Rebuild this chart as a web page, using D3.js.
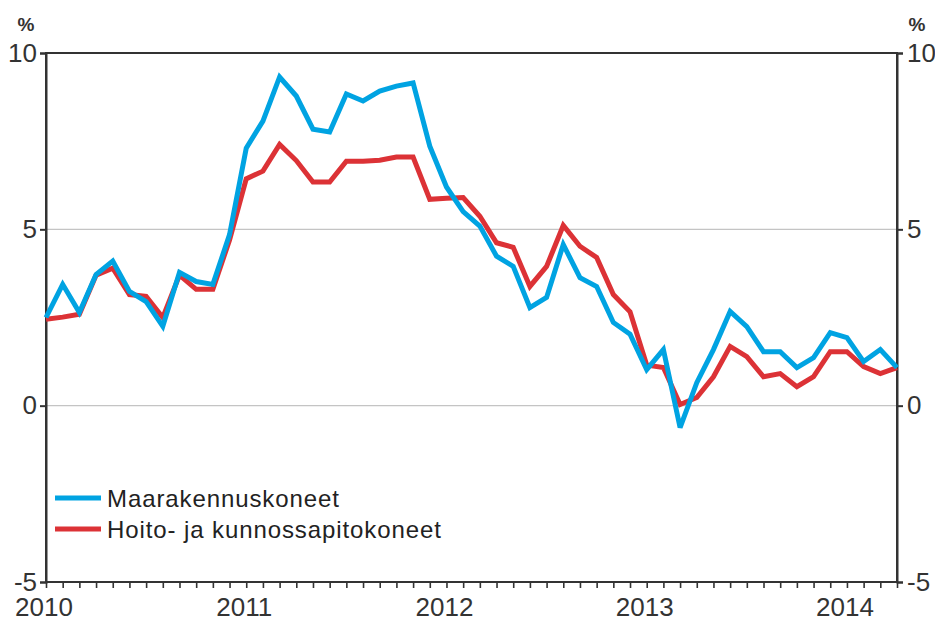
<!DOCTYPE html>
<html>
<head>
<meta charset="utf-8">
<script src="https://cdn.jsdelivr.net/npm/d3@7"></script>
<style>
  body { margin: 0; background: #fff; }
  svg { display: block; font-family: "Liberation Sans", Arial, sans-serif; }
  .axis path, .axis line { stroke: #333; }
  .axis text { font-size: 26px; fill: #333; }
</style>
</head>
<body>
<svg width="935" height="621"></svg>
<script>
// DATA
var yearLabels = ['2010', '2011', '2012', '2013', '2014'];
var monthCount = 52; // Jan 2010 .. Apr 2014
var yTicks = [-5, 0, 5, 10];

var maarakennus = [2.5, 3.44, 2.64, 3.72, 4.1, 3.24, 2.95, 2.25, 3.78, 3.52, 3.44, 4.85,
  7.3, 8.07, 9.32, 8.78, 7.84, 7.76, 8.84, 8.64, 8.92, 9.06, 9.15, 7.36,
  6.2, 5.5, 5.09, 4.24, 3.95, 2.78, 3.07, 4.57, 3.63, 3.38, 2.36, 2.03,
  1.02, 1.59, -0.62, 0.65, 1.59, 2.67, 2.24, 1.53, 1.53, 1.08, 1.36, 2.07,
  1.93, 1.25, 1.59, 1.08];
var hoito = [2.45, 2.51, 2.59, 3.7, 3.9, 3.15, 3.1, 2.5, 3.7, 3.3, 3.3, 4.7,
  6.43, 6.65, 7.41, 6.95, 6.34, 6.34, 6.93, 6.93, 6.96, 7.05, 7.05, 5.85,
  5.88, 5.9, 5.37, 4.62, 4.49, 3.38, 3.95, 5.11, 4.52, 4.2, 3.15, 2.66,
  1.15, 1.08, 0.03, 0.23, 0.82, 1.68, 1.39, 0.82, 0.91, 0.54, 0.82, 1.53,
  1.53, 1.11, 0.91, 1.08];

var series = [
  { name: 'Hoito- ja kunnossapitokoneet', values: hoito, color: '#dc3236' },
  { name: 'Maarakennuskoneet', values: maarakennus, color: '#00a3e2' }
];
var legendOrder = [series[1], series[0]];

var svg = d3.select('svg');

var x = d3.scaleLinear().domain([0, monthCount - 1]).range([46, 897]);
var y = d3.scaleLinear().domain([-5, 10]).range([582, 53]);

// grid lines
svg.append('g').selectAll('line')
  .data([0, 5])
  .enter()
  .append('line')
  .attr('x1', x.range()[0]).attr('x2', x.range()[1])
  .attr('y1', d => y(d)).attr('y2', d => y(d))
  .attr('stroke', '#c4c4c4')
  .attr('stroke-width', 1.2);

// frame
svg.append('rect')
  .attr('x', x.range()[0]).attr('y', y(10))
  .attr('width', x.range()[1] - x.range()[0])
  .attr('height', y(-5) - y(10))
  .attr('fill', 'none')
  .attr('stroke', '#333')
  .attr('stroke-width', 2);

// axes (plain hyphen for negatives, like the original)
var fmt = d => String(d);
var leftAxis = svg.append('g')
  .attr('class', 'axis')
  .attr('transform', 'translate(' + x.range()[0] + ',0)')
  .call(d3.axisLeft(y).tickValues(yTicks).tickSize(6).tickPadding(3).tickFormat(fmt));
var rightAxis = svg.append('g')
  .attr('class', 'axis')
  .attr('transform', 'translate(' + x.range()[1] + ',0)')
  .call(d3.axisRight(y).tickValues(yTicks).tickSize(6).tickPadding(4).tickFormat(fmt));
[leftAxis, rightAxis].forEach(g => {
  g.select('.domain').attr('stroke-width', 2);
  g.selectAll('line').attr('stroke-width', 2);
});

var bottomAxis = svg.append('g')
  .attr('class', 'axis')
  .attr('transform', 'translate(0,' + y(-5) + ')')
  .call(d3.axisBottom(x).tickValues(d3.range(monthCount)).tickSize(6).tickFormat(''));
bottomAxis.select('.domain').remove();
bottomAxis.selectAll('line').attr('stroke-width', 1.6);

// year labels
svg.append('g').selectAll('text')
  .data(yearLabels)
  .enter()
  .append('text')
  .attr('x', (d, i) => x(i * 12) - 2)
  .attr('y', 616)
  .attr('text-anchor', 'middle')
  .attr('font-size', 26)
  .attr('fill', '#333')
  .text(d => d);

// % units
svg.append('g').selectAll('text')
  .data([26, 917])
  .enter()
  .append('text')
  .attr('x', d => d)
  .attr('y', 31)
  .attr('text-anchor', 'middle')
  .attr('font-size', 19)
  .attr('font-weight', 'bold')
  .attr('fill', '#333')
  .text('%');

// lines
var line = d3.line()
  .x((d, i) => x(i))
  .y(d => y(d))
  .curve(d3.curveLinear);

svg.append('g').selectAll('path')
  .data(series)
  .enter()
  .append('path')
  .attr('d', d => line(d.values))
  .attr('fill', 'none')
  .attr('stroke', d => d.color)
  .attr('stroke-width', 5)
  .attr('stroke-linejoin', 'miter')
  .attr('stroke-miterlimit', 3);

// legend
var legend = svg.append('g').selectAll('g')
  .data(legendOrder)
  .enter()
  .append('g')
  .attr('transform', (d, i) => 'translate(55,' + (498 + i * 31) + ')');
legend.append('line')
  .attr('x1', 0).attr('x2', 46)
  .attr('stroke', d => d.color)
  .attr('stroke-width', 5);
legend.append('text')
  .attr('x', 52)
  .attr('y', 9)
  .attr('font-size', 24)
  .attr('letter-spacing', 0.9)
  .attr('fill', '#222')
  .text(d => d.name);
</script>
</body>
</html>
